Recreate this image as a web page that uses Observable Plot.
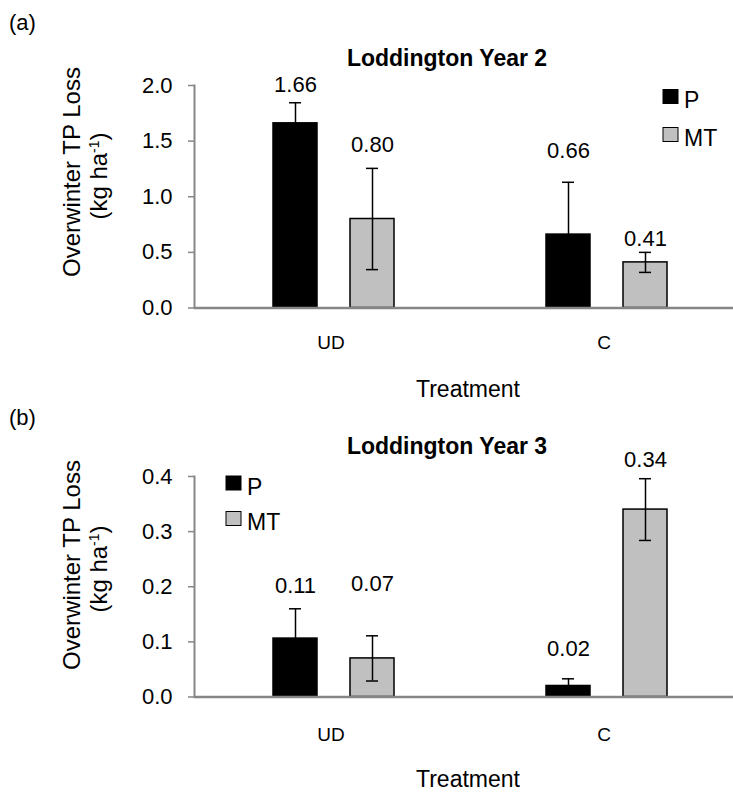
<!DOCTYPE html>
<html>
<head>
<meta charset="utf-8">
<script src="https://cdn.jsdelivr.net/npm/d3@7"></script>
<script src="https://cdn.jsdelivr.net/npm/@observablehq/plot@0.6"></script>
<style>
  body { margin: 0; background: #fff; }
  #chart svg { display: block; }
</style>
</head>
<body>
<div id="chart"></div>
<script>
// ---------- data ----------
const treatments = ["UD", "C"];
const seriesNames = ["P", "MT"];
const seriesColors = ["#000000", "#c0c0c0"];
const yLabelLine1 = "Overwinter TP Loss";
const yLabelUnit = "(kg ha";
const yLabelSup = "-1";
const xLabel = "Treatment";

// Panel (a)
const tagA = "(a)";
const titleA = "Loddington Year 2";
const pA = [1.66, 0.66];
const mtA = [0.80, 0.41];
const pErrA = [0.185, 0.47];
const mtErrA = [0.455, 0.09];
const pLabelAtA = [1.94, 1.35];   // data-label heights (y units)
const mtLabelAtA = [1.40, 0.556];
const yTicksA = [0, 0.5, 1.0, 1.5, 2.0];

// Panel (b)
const tagB = "(b)";
const titleB = "Loddington Year 3";
const pB = [0.106, 0.02];
const mtB = [0.07, 0.34];
const pErrB = [0.054, 0.013];
const mtErrB = [0.041, 0.056];
const pLabelAtB = [0.189, 0.0735];
const mtLabelAtB = [0.193, 0.417];
const yTicksB = [0, 0.1, 0.2, 0.3, 0.4];

// ---------- drawing ----------
const FONT = '"Liberation Sans", Arial, Helvetica, sans-serif';
const GRAY = "#868686";

function makePanel(o) {
  const rows = [];
  treatments.forEach((t, i) => {
    rows.push({treatment: t, series: "P", value: o.p[i], err: o.pErr[i], labelAt: o.pLab[i]});
    rows.push({treatment: t, series: "MT", value: o.mt[i], err: o.mtErr[i], labelAt: o.mtLab[i]});
  });

  const plot = Plot.plot({
    width: 733,
    height: o.height,
    marginLeft: 194,
    marginRight: -7,
    marginTop: o.marginTop,
    marginBottom: o.marginBottom,
    style: {fontFamily: FONT, color: "#000", background: "#fff", fontSize: "21px"},
    fx: {domain: treatments, padding: 0},
    x: {domain: seriesNames, paddingInner: 0.43, paddingOuter: 0.98, align: 0.52, axis: null},
    y: {domain: o.yDomain, axis: null},
    color: {domain: seriesNames, range: seriesColors},
    marks: [
      Plot.axisY({ticks: o.yTicks, tickFormat: d => d.toFixed(1), tickSize: 6, tickPadding: 16,
                  fontSize: 22, stroke: GRAY, strokeWidth: 1.5, label: null}),
      Plot.axisFx({anchor: "bottom", tickSize: 0, tickPadding: o.fxPad, fontSize: 19, label: null}),
      Plot.frame({anchor: "left", stroke: GRAY, strokeWidth: 2, facetAnchor: "left"}),
      Plot.barY(rows, {fx: "treatment", x: "series", y: "value", fill: "series",
                       stroke: "#000", strokeWidth: 1.5}),
      Plot.ruleY([0], {stroke: GRAY, strokeWidth: 2.5}),
      Plot.ruleX(rows, {fx: "treatment", x: "series", y1: d => d.value - d.err, y2: d => d.value + d.err,
                        stroke: "#000", strokeWidth: 1.5}),
      Plot.tickY(rows, {fx: "treatment", x: "series", y: d => d.value + d.err,
                        insetLeft: 16, insetRight: 16, stroke: "#000", strokeWidth: 1.5}),
      Plot.tickY(rows, {fx: "treatment", x: "series", y: d => d.value - d.err,
                        insetLeft: 16, insetRight: 16, stroke: "#000", strokeWidth: 1.5}),
      Plot.text(rows, {fx: "treatment", x: "series", y: "labelAt", text: d => d.value.toFixed(2),
                       fontSize: 22, lineAnchor: "bottom", fill: "#000"})
    ]
  });

  const svg = d3.select(plot);
  const color = plot.scale("color");

  svg.append("text").attr("x", 9).attr("y", o.tagY).attr("text-anchor", "start")
    .style("font-family", FONT).style("font-size", "22px").text(o.tag);

  svg.append("text").attr("x", 447).attr("y", o.titleY).attr("text-anchor", "middle")
    .style("font-family", FONT).style("font-size", "23px").style("font-weight", "bold").text(o.title);

  svg.append("text").attr("transform", `translate(80,${o.ylCenter}) rotate(-90)`)
    .attr("text-anchor", "middle").style("font-family", FONT).style("font-size", "24px")
    .text(yLabelLine1);
  const unit = svg.append("text").attr("transform", `translate(107,${o.ylCenter + 4}) rotate(-90)`)
    .attr("text-anchor", "middle").style("font-family", FONT).style("font-size", "24px");
  unit.append("tspan").text(yLabelUnit);
  unit.append("tspan").attr("baseline-shift", "super").style("font-size", "14px").text(yLabelSup);
  unit.append("tspan").text(")");

  seriesNames.forEach((s, i) => {
    const top = o.legY + i * o.legStep;
    svg.append("rect").attr("x", o.legX).attr("y", top).attr("width", 15).attr("height", 14)
      .attr("fill", color.apply(s)).attr("stroke", "#000").attr("stroke-width", 1);
    svg.append("text").attr("x", o.legX + 21).attr("y", top + 18.5).attr("text-anchor", "start")
      .style("font-family", FONT).style("font-size", "23px").text(s);
  });

  svg.append("text").attr("x", 468).attr("y", o.xlabY).attr("text-anchor", "middle")
    .style("font-family", FONT).style("font-size", "23px").text(xLabel);

  return plot;
}

const chart = document.getElementById("chart");
chart.appendChild(makePanel({
  p: pA, mt: mtA, pErr: pErrA, mtErr: mtErrA, pLab: pLabelAtA, mtLab: mtLabelAtA,
  yTicks: yTicksA, yDomain: [0, 2.0], tag: tagA, title: titleA,
  height: 404, marginTop: 85, marginBottom: 96.5, fxPad: 27,
  tagY: 30, titleY: 66, ylCenter: 172, legX: 663, legY: 89.5, legStep: 38, xlabY: 397
}));
chart.appendChild(makePanel({
  p: pB, mt: mtB, pErr: pErrB, mtErr: mtErrB, pLab: pLabelAtB, mtLab: mtLabelAtB,
  yTicks: yTicksB, yDomain: [0, 0.4], tag: tagB, title: titleB,
  height: 388, marginTop: 72, marginBottom: 95.5, fxPad: 30,
  tagY: 21, titleY: 50, ylCenter: 161, legX: 226, legY: 72, legStep: 35.5, xlabY: 382.5
}));
</script>
</body>
</html>
